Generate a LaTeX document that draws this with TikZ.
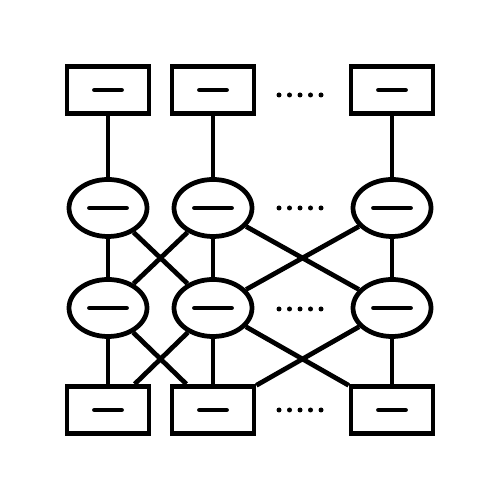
\documentclass[tikz,border=0pt]{standalone}
\usepackage{xcolor}
\usepackage{tikz}
\usetikzlibrary{shapes, positioning, calc}

\begin{document}
\begin{tikzpicture}[
    line width=0.095cm,
    unit/.style={rectangle, draw, fill=white, minimum width=1.64cm, minimum height=0.94cm, inner sep=0pt,
        path picture={\draw[line cap=round] ([xshift=-0.27cm]path picture bounding box.center) -- ([xshift=0.27cm]path picture bounding box.center);}},
    cell/.style={ellipse, draw, fill=white, minimum width=1.56cm, minimum height=1.14cm, inner sep=0pt,
        path picture={\draw[line cap=round] ([xshift=-0.37cm]path picture bounding box.center) -- ([xshift=0.37cm]path picture bounding box.center);}},
    link/.style={line cap=butt}
]
    \useasboundingbox (0,0) rectangle (10,10);

    % Input units
    \node[unit] (in1) at (2.16, 8.2) {};
    \node[unit] (in2) at (4.26, 8.2) {};
    \node[unit] (in3) at (7.84, 8.2) {};

    % Hidden layers
    \node[cell] (ha1) at (2.16, 5.84) {};
    \node[cell] (ha2) at (4.26, 5.84) {};
    \node[cell] (ha3) at (7.84, 5.84) {};
    \node[cell] (hb1) at (2.16, 3.84) {};
    \node[cell] (hb2) at (4.26, 3.84) {};
    \node[cell] (hb3) at (7.84, 3.84) {};

    % Output units
    \node[unit] (out1) at (2.16, 1.8) {};
    \node[unit] (out2) at (4.26, 1.8) {};
    \node[unit] (out3) at (7.84, 1.8) {};

    \draw[link] (in1) -- (ha1);
    \draw[link] (in2) -- (ha2);
    \draw[link] (in3) -- (ha3);

    \draw[link] (ha1) -- (hb1);
    \draw[link] (ha2) -- (hb2);
    \draw[link] (ha3) -- (hb3);
    \draw[link] (ha1) -- (hb2);
    \draw[link] (ha2) -- (hb1);
    \draw[link] (ha2) -- (hb3);
    \draw[link] (ha3) -- (hb2);

    \draw[link] (hb1) -- (out1);
    \draw[link] (hb2) -- (out2);
    \draw[link] (hb3) -- (out3);
    \draw[link] (hb1) -- (out2);
    \draw[link] (hb2) -- (out1);
    \draw[link] (hb2) -- (out3);
    \draw[link] (hb3) -- (out2);

    % Dots
    \foreach \y in {8.1, 5.84, 3.82, 1.8}
        \foreach \x in {5.58, 5.79, 6.0, 6.21, 6.42}
            \fill (\x, \y) circle (0.05);
\end{tikzpicture}
\end{document}
